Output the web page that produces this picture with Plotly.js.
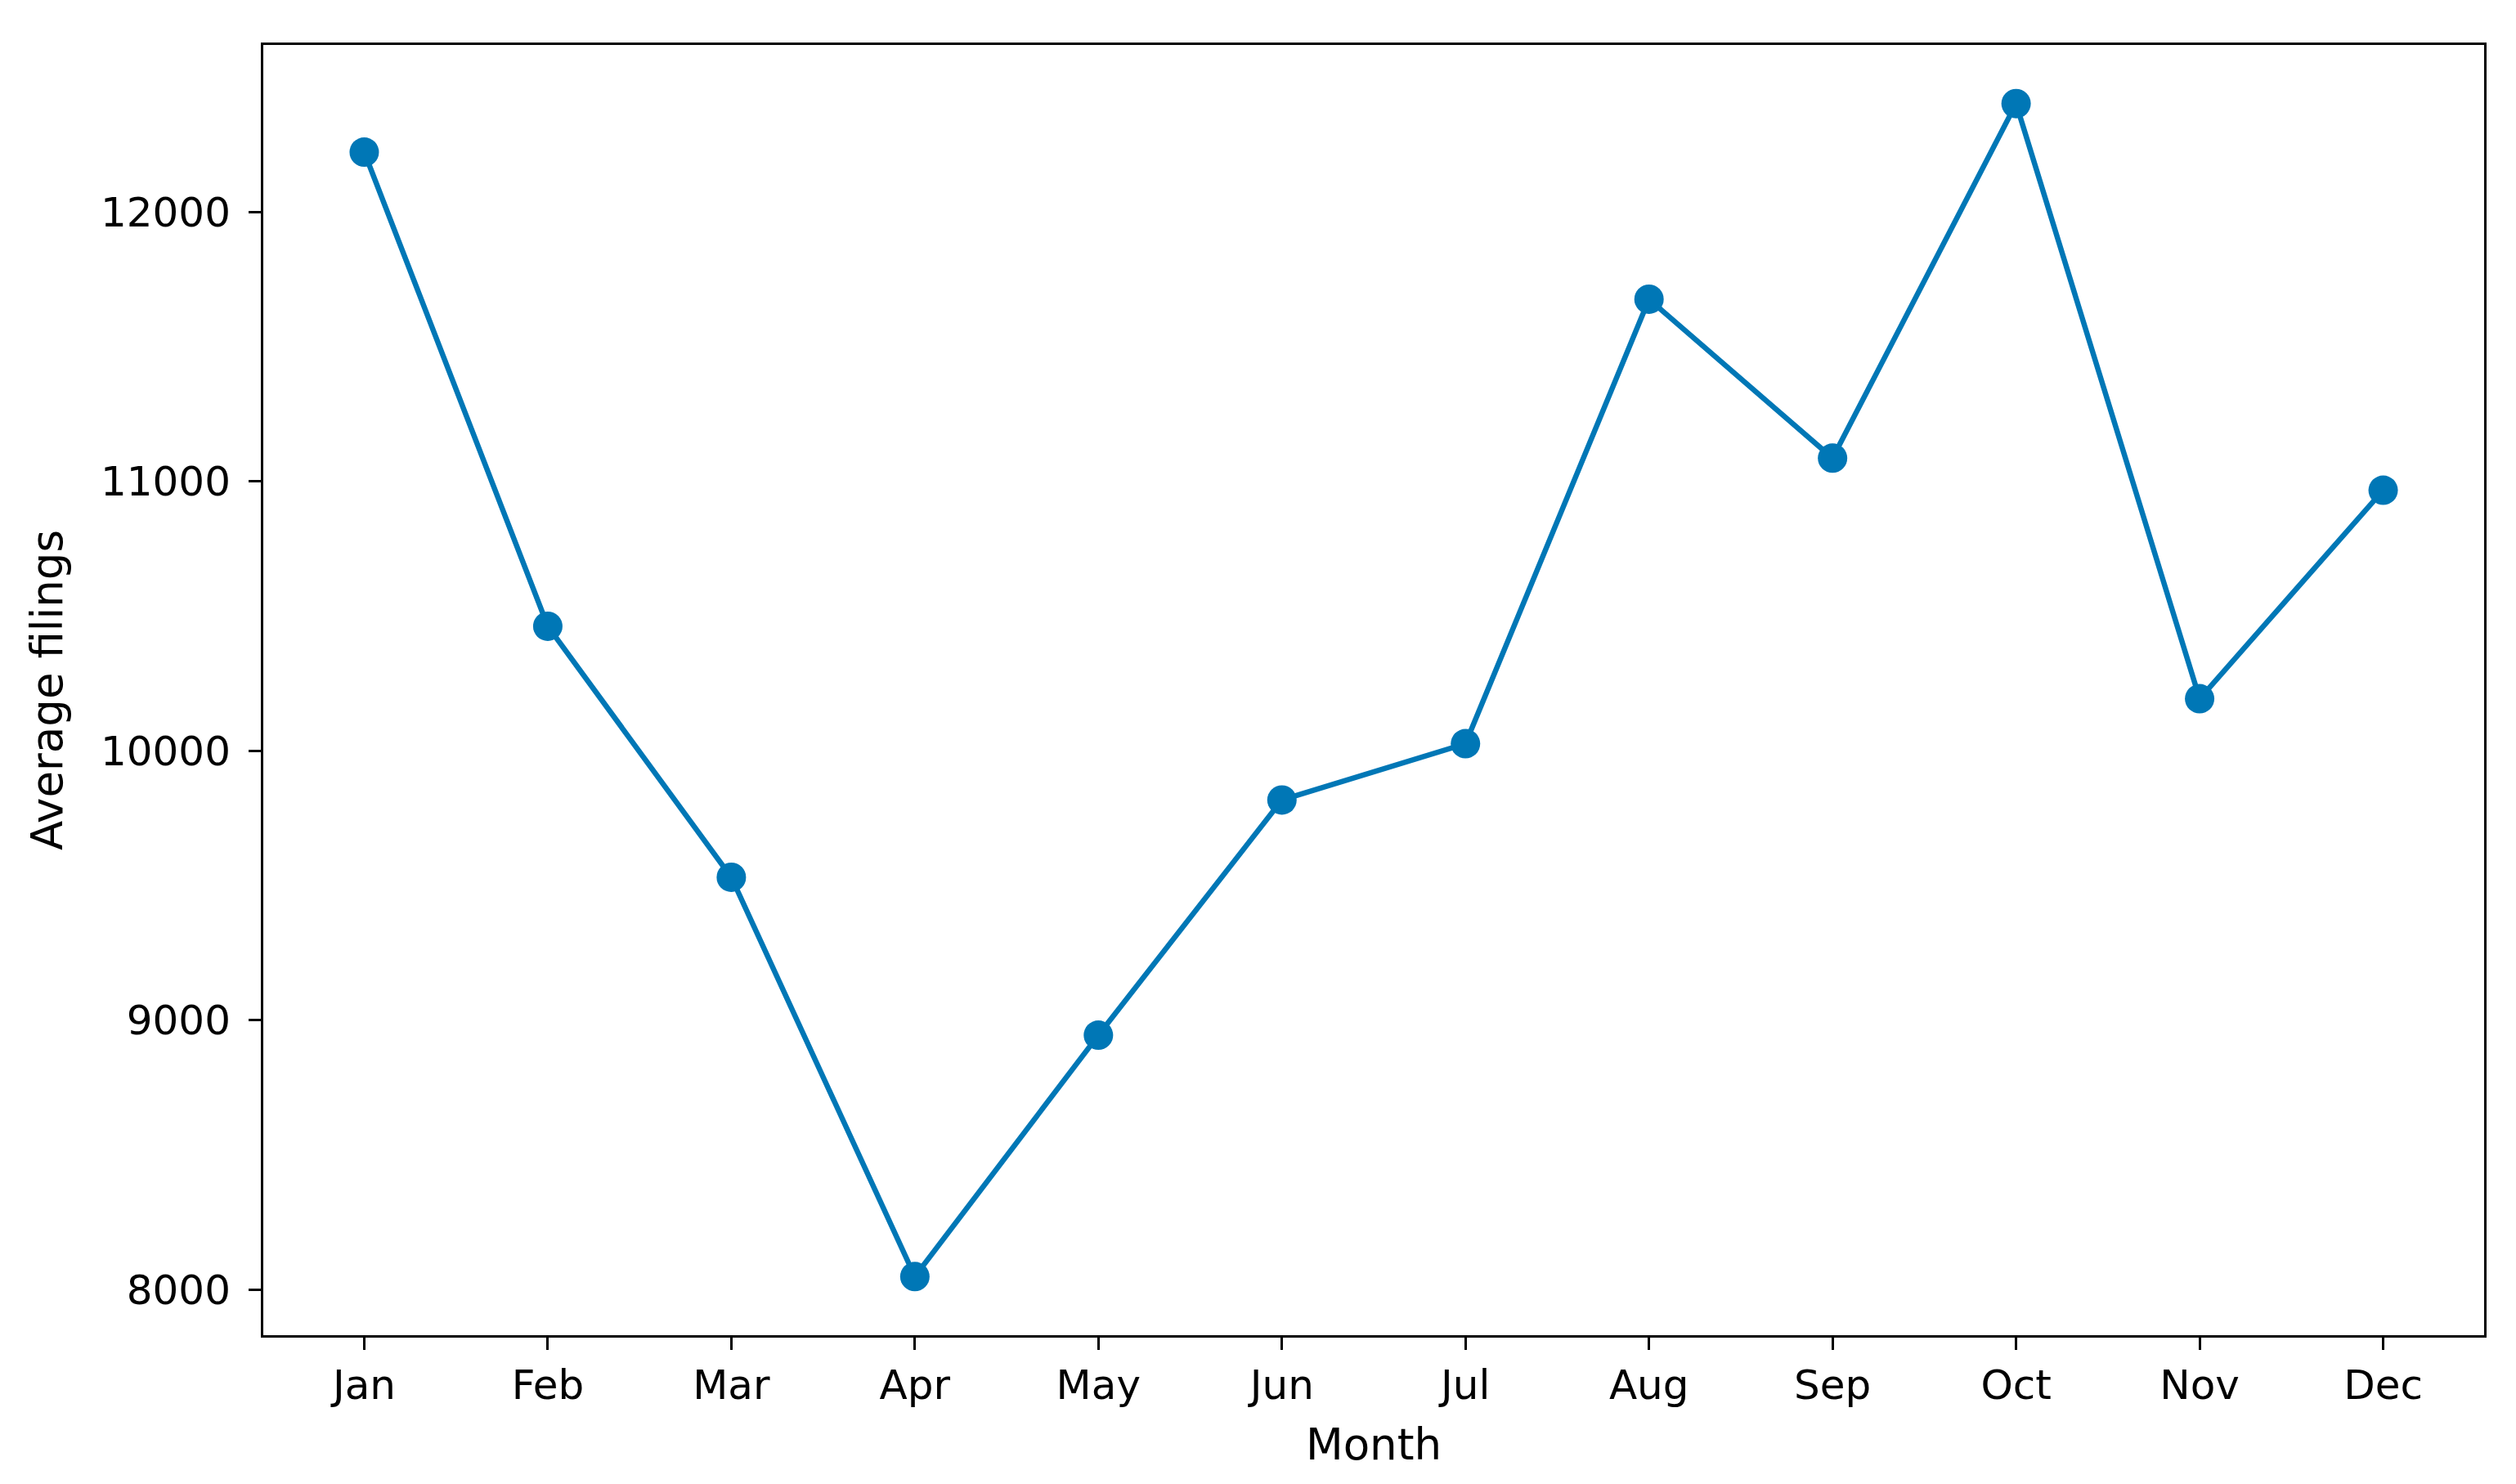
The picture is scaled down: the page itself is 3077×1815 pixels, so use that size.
<!DOCTYPE html>
<html lang="en">
<head>
    <meta charset="UTF-8">
    <style>
        html, body, #plot {
            width: 100%;
            height: 100%;
            margin: 0;
            padding: 0;
            overflow: hidden;
            background: #ffffff;
        }
    </style>
</head>
<body>
<div id="plot"></div>
<script src="https://cdn.plot.ly/plotly-3.0.1.min.js"></script>
<script>
    // Data
    const months = ['Jan', 'Feb', 'Mar', 'Apr', 'May', 'Jun', 'Jul', 'Aug', 'Sep', 'Oct', 'Nov', 'Dec'];
    const avgFilings = [12223, 10463, 9531, 8049, 8945, 9818, 10027, 11677, 11087, 12403, 10194, 10968];
    const yTicks = [8000, 9000, 10000, 11000, 12000];

    const lineColor = '#0077b6';
    const fontFamily = 'DejaVu Sans, sans-serif';

    const trace = {
        x: months,
        y: avgFilings,
        type: 'scatter',
        mode: 'lines+markers',
        line: { color: lineColor, width: 6.5 },
        marker: { color: lineColor, size: 36 },
        showlegend: false
    };

    // matplotlib-style 5% margins around the data
    const yMin = Math.min(...avgFilings);
    const yMax = Math.max(...avgFilings);
    const yPad = (yMax - yMin) * 0.05;

    const layout = {
        width: 3077,
        height: 1815,
        paper_bgcolor: '#ffffff',
        plot_bgcolor: '#ffffff',
        margin: { l: 322, r: 39, t: 55, b: 182, pad: 0 },
        font: { family: fontFamily, size: 50, color: '#000000' },
        xaxis: {
            type: 'category',
            range: [-0.55, months.length - 1 + 0.55],
            showline: true,
            mirror: true,
            linecolor: '#000000',
            linewidth: 3,
            showgrid: false,
            zeroline: false,
            ticks: 'outside',
            ticklen: 15,
            tickwidth: 3,
            tickcolor: '#000000',
            tickfont: { family: fontFamily, size: 50, color: '#000000' },
            title: {
                text: 'Month',
                font: { family: fontFamily, size: 53, color: '#000000' },
                standoff: 26
            }
        },
        yaxis: {
            range: [yMin - yPad, yMax + yPad],
            tickvals: yTicks,
            ticktext: yTicks.map(String),
            showline: true,
            mirror: true,
            linecolor: '#000000',
            linewidth: 3,
            showgrid: false,
            zeroline: false,
            ticks: 'outside',
            ticklen: 15,
            tickwidth: 3,
            tickcolor: '#000000',
            ticklabelstandoff: 12,
            tickfont: { family: fontFamily, size: 50, color: '#000000' },
            title: {
                text: 'Average filings',
                font: { family: fontFamily, size: 53, color: '#000000' },
                standoff: 30
            }
        }
    };

    const config = { displayModeBar: false, staticPlot: true };

    Plotly.newPlot('plot', [trace], layout, config);
</script>
</body>
</html>
